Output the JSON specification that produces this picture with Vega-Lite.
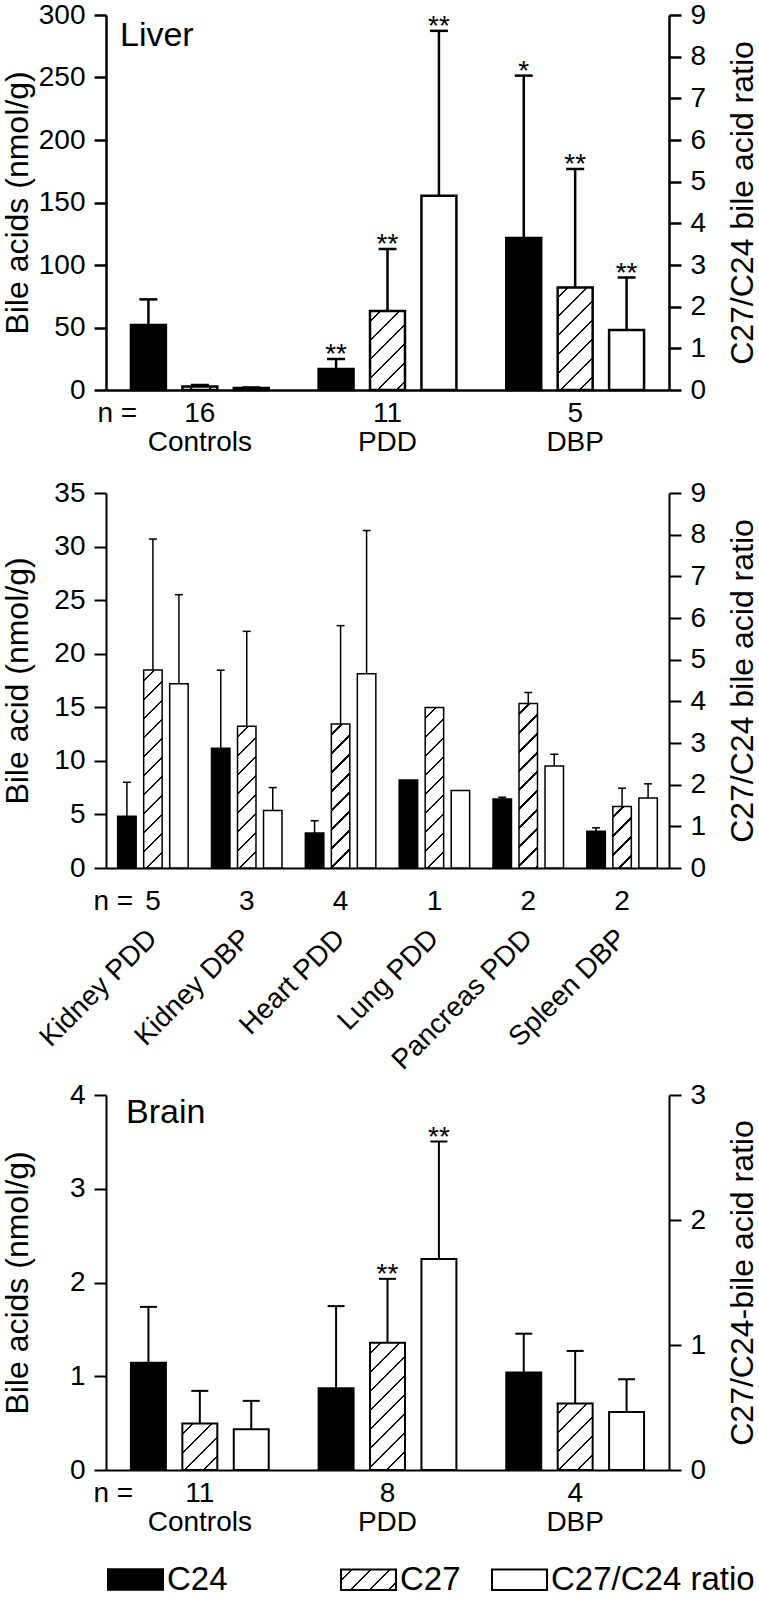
{
  "$schema": "https://vega.github.io/schema/vega-lite/v6.json",
  "padding": {"left": 1, "top": 1, "right": 0, "bottom": 0},
  "params": [
    {"name": "hs", "value": [
      {"offset": 0, "color": "white"},
      {"offset": 0.03958, "color": "white"}, {"offset": 0.03958, "color": "black"}, {"offset": 0.04875, "color": "black"}, {"offset": 0.04875, "color": "white"},
      {"offset": 0.11875, "color": "white"}, {"offset": 0.11875, "color": "black"}, {"offset": 0.12792, "color": "black"}, {"offset": 0.12792, "color": "white"},
      {"offset": 0.19792, "color": "white"}, {"offset": 0.19792, "color": "black"}, {"offset": 0.20708, "color": "black"}, {"offset": 0.20708, "color": "white"},
      {"offset": 0.27708, "color": "white"}, {"offset": 0.27708, "color": "black"}, {"offset": 0.28625, "color": "black"}, {"offset": 0.28625, "color": "white"},
      {"offset": 0.35625, "color": "white"}, {"offset": 0.35625, "color": "black"}, {"offset": 0.36542, "color": "black"}, {"offset": 0.36542, "color": "white"},
      {"offset": 0.43542, "color": "white"}, {"offset": 0.43542, "color": "black"}, {"offset": 0.44458, "color": "black"}, {"offset": 0.44458, "color": "white"},
      {"offset": 0.51458, "color": "white"}, {"offset": 0.51458, "color": "black"}, {"offset": 0.52375, "color": "black"}, {"offset": 0.52375, "color": "white"},
      {"offset": 0.59375, "color": "white"}, {"offset": 0.59375, "color": "black"}, {"offset": 0.60292, "color": "black"}, {"offset": 0.60292, "color": "white"},
      {"offset": 0.67292, "color": "white"}, {"offset": 0.67292, "color": "black"}, {"offset": 0.68208, "color": "black"}, {"offset": 0.68208, "color": "white"},
      {"offset": 0.75208, "color": "white"}, {"offset": 0.75208, "color": "black"}, {"offset": 0.76125, "color": "black"}, {"offset": 0.76125, "color": "white"},
      {"offset": 0.83125, "color": "white"}, {"offset": 0.83125, "color": "black"}, {"offset": 0.84042, "color": "black"}, {"offset": 0.84042, "color": "white"},
      {"offset": 0.91042, "color": "white"}, {"offset": 0.91042, "color": "black"}, {"offset": 0.91958, "color": "black"}, {"offset": 0.91958, "color": "white"},
      {"offset": 0.98958, "color": "white"}, {"offset": 0.98958, "color": "black"}, {"offset": 0.99875, "color": "black"}, {"offset": 0.99875, "color": "white"},
      {"offset": 1, "color": "white"}
    ]}
  ],
  "datasets": {
    "liver": [
      {"group": "Controls", "n": 16, "series": "C24", "value": 52, "err": 72.5, "sig": ""},
      {"group": "Controls", "n": 16, "series": "C27", "value": 2.9, "err": 4, "sig": ""},
      {"group": "Controls", "n": 16, "series": "C27/C24 ratio", "value": 0.05, "err": 0.06, "sig": ""},
      {"group": "PDD", "n": 11, "series": "C24", "value": 16.8, "err": 24.8, "sig": "**"},
      {"group": "PDD", "n": 11, "series": "C27", "value": 63.3, "err": 112.8, "sig": "**"},
      {"group": "PDD", "n": 11, "series": "C27/C24 ratio", "value": 4.66, "err": 8.62, "sig": "**"},
      {"group": "DBP", "n": 5, "series": "C24", "value": 121.6, "err": 251.5, "sig": "*"},
      {"group": "DBP", "n": 5, "series": "C27", "value": 82.1, "err": 176.8, "sig": "**"},
      {"group": "DBP", "n": 5, "series": "C27/C24 ratio", "value": 1.44, "err": 2.7, "sig": "**"}
    ],
    "organs": [
      {"group": "Kidney PDD", "n": 5, "series": "C24", "value": 4.84, "err": 8.0},
      {"group": "Kidney PDD", "n": 5, "series": "C27", "value": 18.49, "err": 30.7},
      {"group": "Kidney PDD", "n": 5, "series": "C27/C24 ratio", "value": 4.42, "err": 6.56},
      {"group": "Kidney DBP", "n": 3, "series": "C24", "value": 11.17, "err": 18.46},
      {"group": "Kidney DBP", "n": 3, "series": "C27", "value": 13.22, "err": 22.09},
      {"group": "Kidney DBP", "n": 3, "series": "C27/C24 ratio", "value": 1.38, "err": 1.93},
      {"group": "Heart PDD", "n": 4, "series": "C24", "value": 3.26, "err": 4.41},
      {"group": "Heart PDD", "n": 4, "series": "C27", "value": 13.43, "err": 22.62},
      {"group": "Heart PDD", "n": 4, "series": "C27/C24 ratio", "value": 4.66, "err": 8.1},
      {"group": "Lung PDD", "n": 1, "series": "C24", "value": 8.22, "err": null},
      {"group": "Lung PDD", "n": 1, "series": "C27", "value": 14.99, "err": null},
      {"group": "Lung PDD", "n": 1, "series": "C27/C24 ratio", "value": 1.86, "err": null},
      {"group": "Pancreas PDD", "n": 2, "series": "C24", "value": 6.45, "err": 6.6},
      {"group": "Pancreas PDD", "n": 2, "series": "C27", "value": 15.36, "err": 16.38},
      {"group": "Pancreas PDD", "n": 2, "series": "C27/C24 ratio", "value": 2.45, "err": 2.73},
      {"group": "Spleen DBP", "n": 2, "series": "C24", "value": 3.44, "err": 3.75},
      {"group": "Spleen DBP", "n": 2, "series": "C27", "value": 5.74, "err": 7.45},
      {"group": "Spleen DBP", "n": 2, "series": "C27/C24 ratio", "value": 1.68, "err": 2.02}
    ],
    "brain": [
      {"group": "Controls", "n": 11, "series": "C24", "value": 1.145, "err": 1.74, "sig": ""},
      {"group": "Controls", "n": 11, "series": "C27", "value": 0.496, "err": 0.844, "sig": ""},
      {"group": "Controls", "n": 11, "series": "C27/C24 ratio", "value": 0.327, "err": 0.553, "sig": ""},
      {"group": "PDD", "n": 8, "series": "C24", "value": 0.872, "err": 1.748, "sig": ""},
      {"group": "PDD", "n": 8, "series": "C27", "value": 1.358, "err": 2.039, "sig": "**"},
      {"group": "PDD", "n": 8, "series": "C27/C24 ratio", "value": 1.689, "err": 2.628, "sig": "**"},
      {"group": "DBP", "n": 4, "series": "C24", "value": 1.039, "err": 1.454, "sig": ""},
      {"group": "DBP", "n": 4, "series": "C27", "value": 0.709, "err": 1.27, "sig": ""},
      {"group": "DBP", "n": 4, "series": "C27/C24 ratio", "value": 0.465, "err": 0.726, "sig": ""}
    ]
  },
  "config": {
    "font": "Liberation Sans",
    "view": {"stroke": null},
    "axis": {"grid": false, "domainColor": "black", "tickColor": "black", "labelColor": "black", "titleColor": "black", "labelFontSize": 28, "titleFontSize": 32, "titleFontWeight": "normal", "tickSize": 12, "tickWidth": 2, "domainWidth": 2, "labelPadding": 9, "labelFont": "Liberation Sans", "titleFont": "Liberation Sans", "labelOverlap": false, "labelFlush": false, "labelBound": false}
  },
  "spacing": 6,
  "resolve": {"scale": {"xOffset": "independent"}},
  "vconcat": [
    {
      "spacing": 23,
      "resolve": {"scale": {"xOffset": "independent"}},
      "vconcat": [
        {
          "width": 563, "height": 375,
          "data": {"name": "liver"},
          "transform": [{"calculate": "datum.n + '|' + datum.group", "as": "xlab"}],
          "title": {"text": "Liver", "anchor": "start", "frame": "group", "orient": "top", "offset": 0, "dx": 14, "dy": 52, "baseline": "top", "fontSize": 34, "fontWeight": "normal", "color": "black"},
          "layer": [
            {"layer": [
              {"transform": [{"filter": "datum.series == 'C24'"}],
               "mark": {"type": "bar", "fill": "black", "stroke": "black", "strokeWidth": 2.5},
               "encoding": {
                 "x": {"field": "xlab", "type": "nominal", "sort": null, "scale": {"paddingInner": 0, "paddingOuter": 0},
                   "axis": {"labelExpr": "split(datum.value, '|')", "labelAngle": 0, "labelAlign": "center", "labelBaseline": "top", "labelPadding": 9, "labelLineHeight": 29, "ticks": false, "domainWidth": 2.5, "title": "n =", "titleAngle": 0, "titleAlign": "left", "titleBaseline": "top", "titleX": -9, "titleY": 9, "titleFontSize": 28}},
                 "xOffset": {"field": "series", "type": "nominal", "scale": {"domain": ["C24", "C27", "C27/C24 ratio"], "paddingInner": 0.32, "paddingOuter": 0.485}},
                 "y": {"field": "value", "type": "quantitative", "scale": {"domain": [0, 300], "nice": false},
                   "axis": {"values": [0, 50, 100, 150, 200, 250, 300], "format": "d", "title": "Bile acids (nmol/g)", "minExtent": 64, "maxExtent": 64, "titlePadding": 8, "domainWidth": 2.5, "tickWidth": 2.5}}
               }},
              {"transform": [{"filter": "datum.series == 'C27'"}],
               "mark": {"type": "bar", "fill": {"expr": "{gradient: 'linear', x1: 0, y1: 0, x2: 240 * 34.96 / (1222.2 + pow(datum.value * 1.25, 2)), y2: 240 * datum.value * 1.25 / (1222.2 + pow(datum.value * 1.25, 2)), stops: hs}"}, "stroke": "black", "strokeWidth": 2.5},
               "encoding": {
                 "x": {"field": "xlab", "type": "nominal", "sort": null},
                 "xOffset": {"field": "series", "type": "nominal"},
                 "y": {"field": "value", "type": "quantitative"}
               }},
              {"transform": [{"filter": "datum.series != 'C27/C24 ratio' && isValid(datum.err)"}],
               "mark": {"type": "rule", "color": "black", "strokeWidth": 2.5},
               "encoding": {
                 "x": {"field": "xlab", "type": "nominal", "sort": null},
                 "xOffset": {"field": "series", "type": "nominal"},
                 "y": {"field": "value", "type": "quantitative"},
                 "y2": {"field": "err"}
               }},
              {"transform": [{"filter": "datum.series != 'C27/C24 ratio' && isValid(datum.err)"}],
               "mark": {"type": "tick", "orient": "horizontal", "size": 18, "thickness": 2.5, "color": "black", "opacity": 1},
               "encoding": {
                 "x": {"field": "xlab", "type": "nominal", "sort": null},
                 "xOffset": {"field": "series", "type": "nominal"},
                 "y": {"field": "err", "type": "quantitative"}
               }},
              {"transform": [{"filter": "datum.series != 'C27/C24 ratio' && isValid(datum.err)"}],
               "mark": {"type": "text", "fontSize": 28, "baseline": "alphabetic", "align": "center", "dy": 4, "color": "black"},
               "encoding": {
                 "x": {"field": "xlab", "type": "nominal", "sort": null},
                 "xOffset": {"field": "series", "type": "nominal"},
                 "y": {"field": "err", "type": "quantitative"},
                 "text": {"field": "sig"}
               }}
            ]},
            {"layer": [
              {"transform": [{"filter": "datum.series == 'C27/C24 ratio'"}],
               "mark": {"type": "bar", "fill": "white", "stroke": "black", "strokeWidth": 2.5},
               "encoding": {
                 "x": {"field": "xlab", "type": "nominal", "sort": null},
                 "xOffset": {"field": "series", "type": "nominal"},
                 "y": {"field": "value", "type": "quantitative", "scale": {"domain": [0, 9], "nice": false},
                   "axis": {"orient": "right", "values": [0, 1, 2, 3, 4, 5, 6, 7, 8, 9], "format": "d", "title": "C27/C24 bile acid ratio", "titleAngle": -90, "titleBaseline": "top", "minExtent": 40, "maxExtent": 40, "titlePadding": 18, "domainWidth": 2.5, "tickWidth": 2.5}}
               }},
              {"transform": [{"filter": "datum.series == 'C27/C24 ratio' && isValid(datum.err)"}],
               "mark": {"type": "rule", "color": "black", "strokeWidth": 2.5},
               "encoding": {
                 "x": {"field": "xlab", "type": "nominal", "sort": null},
                 "xOffset": {"field": "series", "type": "nominal"},
                 "y": {"field": "value", "type": "quantitative"},
                 "y2": {"field": "err"}
               }},
              {"transform": [{"filter": "datum.series == 'C27/C24 ratio' && isValid(datum.err)"}],
               "mark": {"type": "tick", "orient": "horizontal", "size": 18, "thickness": 2.5, "color": "black", "opacity": 1},
               "encoding": {
                 "x": {"field": "xlab", "type": "nominal", "sort": null},
                 "xOffset": {"field": "series", "type": "nominal"},
                 "y": {"field": "err", "type": "quantitative"}
               }},
              {"transform": [{"filter": "datum.series == 'C27/C24 ratio' && isValid(datum.err)"}],
               "mark": {"type": "text", "fontSize": 28, "baseline": "alphabetic", "align": "center", "dy": 4, "color": "black"},
               "encoding": {
                 "x": {"field": "xlab", "type": "nominal", "sort": null},
                 "xOffset": {"field": "series", "type": "nominal"},
                 "y": {"field": "err", "type": "quantitative"},
                 "text": {"field": "sig"}
               }}
            ]}
          ],
          "resolve": {"scale": {"y": "independent"}}
        },
        {
          "width": 563, "height": 375,
          "data": {"name": "organs"},
          "transform": [{"calculate": "datum.n + '|' + datum.group", "as": "xlab"}],
          "layer": [
            {"layer": [
              {"layer": [
                {"transform": [{"filter": "datum.series == 'C24'"}],
                 "mark": {"type": "bar", "fill": "black", "stroke": "black", "strokeWidth": 1.5},
                 "encoding": {
                   "x": {"field": "xlab", "type": "nominal", "sort": null, "scale": {"paddingInner": 0, "paddingOuter": 0},
                     "axis": {"labelExpr": "split(datum.value, '|')[0]", "labelAngle": 0, "labelAlign": "center", "labelBaseline": "top", "labelPadding": 19, "ticks": false, "domainWidth": 2, "title": "n =", "titleAngle": 0, "titleAlign": "left", "titleBaseline": "top", "titleX": -13, "titleY": 19, "titleFontSize": 28}},
                   "xOffset": {"field": "series", "type": "nominal", "scale": {"domain": ["C24", "C27", "C27/C24 ratio"], "paddingInner": 0.29, "paddingOuter": 0.449}},
                   "y": {"field": "value", "type": "quantitative", "scale": {"domain": [0, 35], "nice": false},
                     "axis": {"values": [0, 5, 10, 15, 20, 25, 30, 35], "format": "d", "title": "Bile acid (nmol/g)", "minExtent": 64, "maxExtent": 64, "titlePadding": 8}}
                 }},
                {"transform": [{"filter": "datum.series == 'C27'"}],
                 "mark": {"type": "bar", "fill": {"expr": "{gradient: 'linear', x1: 0, y1: 0, x2: 240 * 18.47 / (341.1 + pow(datum.value * 10.714, 2)), y2: 240 * datum.value * 10.714 / (341.1 + pow(datum.value * 10.714, 2)), stops: hs}"}, "stroke": "black", "strokeWidth": 1.5},
                 "encoding": {
                   "x": {"field": "xlab", "type": "nominal", "sort": null},
                   "xOffset": {"field": "series", "type": "nominal"},
                   "y": {"field": "value", "type": "quantitative"}
                 }},
                {"transform": [{"filter": "datum.series != 'C27/C24 ratio' && isValid(datum.err)"}],
                 "mark": {"type": "rule", "color": "black", "strokeWidth": 1.5},
                 "encoding": {
                   "x": {"field": "xlab", "type": "nominal", "sort": null},
                   "xOffset": {"field": "series", "type": "nominal"},
                   "y": {"field": "value", "type": "quantitative"},
                   "y2": {"field": "err"}
                 }},
                {"transform": [{"filter": "datum.series != 'C27/C24 ratio' && isValid(datum.err)"}],
                 "mark": {"type": "tick", "orient": "horizontal", "size": 8, "thickness": 1.5, "color": "black", "opacity": 1},
                 "encoding": {
                   "x": {"field": "xlab", "type": "nominal", "sort": null},
                   "xOffset": {"field": "series", "type": "nominal"},
                   "y": {"field": "err", "type": "quantitative"}
                 }}
              ]},
              {"layer": [
                {"transform": [{"filter": "datum.series == 'C27/C24 ratio'"}],
                 "mark": {"type": "bar", "fill": "white", "stroke": "black", "strokeWidth": 1.5},
                 "encoding": {
                   "x": {"field": "xlab", "type": "nominal", "sort": null},
                   "xOffset": {"field": "series", "type": "nominal"},
                   "y": {"field": "value", "type": "quantitative", "scale": {"domain": [0, 9], "nice": false},
                     "axis": {"orient": "right", "values": [0, 1, 2, 3, 4, 5, 6, 7, 8, 9], "format": "d", "title": "C27/C24 bile acid ratio", "titleAngle": -90, "titleBaseline": "top", "minExtent": 40, "maxExtent": 40, "titlePadding": 18}}
                 }},
                {"transform": [{"filter": "datum.series == 'C27/C24 ratio' && isValid(datum.err)"}],
                 "mark": {"type": "rule", "color": "black", "strokeWidth": 1.5},
                 "encoding": {
                   "x": {"field": "xlab", "type": "nominal", "sort": null},
                   "xOffset": {"field": "series", "type": "nominal"},
                   "y": {"field": "value", "type": "quantitative"},
                   "y2": {"field": "err"}
                 }},
                {"transform": [{"filter": "datum.series == 'C27/C24 ratio' && isValid(datum.err)"}],
                 "mark": {"type": "tick", "orient": "horizontal", "size": 8, "thickness": 1.5, "color": "black", "opacity": 1},
                 "encoding": {
                   "x": {"field": "xlab", "type": "nominal", "sort": null},
                   "xOffset": {"field": "series", "type": "nominal"},
                   "y": {"field": "err", "type": "quantitative"}
                 }}
              ]}
            ],
            "resolve": {"scale": {"y": "independent"}}},
            {"mark": {"type": "rule", "opacity": 0},
             "encoding": {
               "x": {"field": "xlab", "type": "nominal", "sort": null, "scale": {"paddingInner": 0, "paddingOuter": 0},
                 "axis": {"orient": "bottom", "labelExpr": "split(datum.value, '|')[1]", "labelAngle": -45, "labelAlign": "right", "labelBaseline": "middle", "labelPadding": 66, "labelFontSize": 28, "labelLimit": 400, "domain": false, "ticks": false, "title": null}}
             }}
          ],
          "resolve": {"scale": {"x": "independent", "xOffset": "independent"}, "axis": {"x": "independent"}}
        }
      ]
    },
    {
      "width": 563, "height": 375,
      "data": {"name": "brain"},
      "transform": [{"calculate": "datum.n + '|' + datum.group", "as": "xlab"}],
      "title": {"text": "Brain", "anchor": "start", "frame": "group", "orient": "top", "offset": 0, "dx": 20, "dy": 49, "baseline": "top", "fontSize": 34, "fontWeight": "normal", "color": "black"},
      "layer": [
        {"layer": [
          {"transform": [{"filter": "datum.series == 'C24'"}],
           "mark": {"type": "bar", "stroke": "black", "strokeWidth": 2},
           "encoding": {
             "x": {"field": "xlab", "type": "nominal", "sort": null, "scale": {"paddingInner": 0, "paddingOuter": 0},
               "axis": {"labelExpr": "split(datum.value, '|')", "labelAngle": 0, "labelAlign": "center", "labelBaseline": "top", "labelPadding": 9, "labelLineHeight": 29, "ticks": false, "domainWidth": 2, "title": "n =", "titleAngle": 0, "titleAlign": "left", "titleBaseline": "top", "titleX": -13, "titleY": 9, "titleFontSize": 28}},
             "xOffset": {"field": "series", "type": "nominal", "scale": {"domain": ["C24", "C27", "C27/C24 ratio"], "paddingInner": 0.32, "paddingOuter": 0.485}},
             "y": {"field": "value", "type": "quantitative", "scale": {"domain": [0, 4], "nice": false},
               "axis": {"values": [0, 1, 2, 3, 4], "format": "d", "title": "Bile acids (nmol/g)", "minExtent": 64, "maxExtent": 64, "titlePadding": 8}},
             "fill": {"field": "series", "type": "nominal",
               "scale": {"domain": ["C24"], "range": ["black"]},
               "legend": {"orient": "none", "legendX": 1, "legendY": 456, "direction": "horizontal", "title": null, "padding": 0,
                 "symbolType": "M-1,-0.37L1,-0.37L1,0.37L-1,0.37Z", "symbolSize": 3025, "symbolStrokeColor": "black", "symbolStrokeWidth": 2,
                 "labelFontSize": 33, "labelColor": "black", "labelOffset": 3, "labelLimit": 600,
                 "encoding": {"symbols": {"stroke": {"value": "black"}, "strokeWidth": {"value": 2}, "opacity": {"value": 1}}}}}
           }},
          {"transform": [{"filter": "datum.series == 'C27'"}],
           "mark": {"type": "bar", "fill": {"expr": "{gradient: 'linear', x1: 0, y1: 0, x2: 240 * 34.96 / (1222.2 + pow(datum.value * 93.75, 2)), y2: 240 * datum.value * 93.75 / (1222.2 + pow(datum.value * 93.75, 2)), stops: hs}"}, "stroke": "black", "strokeWidth": 2},
           "encoding": {
             "x": {"field": "xlab", "type": "nominal", "sort": null},
             "xOffset": {"field": "series", "type": "nominal"},
             "y": {"field": "value", "type": "quantitative"}
           }},
          {"transform": [{"filter": "datum.series != 'C27/C24 ratio' && isValid(datum.err)"}],
           "mark": {"type": "rule", "color": "black", "strokeWidth": 2},
           "encoding": {
             "x": {"field": "xlab", "type": "nominal", "sort": null},
             "xOffset": {"field": "series", "type": "nominal"},
             "y": {"field": "value", "type": "quantitative"},
             "y2": {"field": "err"}
           }},
          {"transform": [{"filter": "datum.series != 'C27/C24 ratio' && isValid(datum.err)"}],
           "mark": {"type": "tick", "orient": "horizontal", "size": 17, "thickness": 2, "color": "black", "opacity": 1},
           "encoding": {
             "x": {"field": "xlab", "type": "nominal", "sort": null},
             "xOffset": {"field": "series", "type": "nominal"},
             "y": {"field": "err", "type": "quantitative"}
           }},
          {"transform": [{"filter": "datum.series != 'C27/C24 ratio' && isValid(datum.err)"}],
           "mark": {"type": "text", "fontSize": 28, "baseline": "alphabetic", "align": "center", "dy": 4, "color": "black"},
           "encoding": {
             "x": {"field": "xlab", "type": "nominal", "sort": null},
             "xOffset": {"field": "series", "type": "nominal"},
             "y": {"field": "err", "type": "quantitative"},
             "text": {"field": "sig"}
           }}
        ]},
        {"layer": [
          {"transform": [{"filter": "datum.series == 'C27/C24 ratio'"}],
           "mark": {"type": "bar", "stroke": "black", "strokeWidth": 2},
           "encoding": {
             "x": {"field": "xlab", "type": "nominal", "sort": null},
             "xOffset": {"field": "series", "type": "nominal"},
             "y": {"field": "value", "type": "quantitative", "scale": {"domain": [0, 3], "nice": false},
               "axis": {"orient": "right", "values": [0, 1, 2, 3], "format": "d", "title": "C27/C24-bile acid ratio", "titleAngle": -90, "titleBaseline": "top", "minExtent": 40, "maxExtent": 40, "titlePadding": 18}},
             "fill": {"field": "series", "type": "nominal",
               "scale": {"domain": ["C27", "C27/C24 ratio"], "range": [{"expr": "{gradient: 'linear', x1: 0, y1: 0, x2: 3.838, y2: 1.42, stops: hs}"}, "white"]},
               "legend": {"orient": "none", "legendX": 234, "legendY": 456, "direction": "horizontal", "title": null, "padding": 0,
                 "symbolType": "M-1,-0.37L1,-0.37L1,0.37L-1,0.37Z", "symbolSize": 3025, "symbolStrokeColor": "black", "symbolStrokeWidth": 2,
                 "labelFontSize": 33, "labelColor": "black", "labelOffset": 3, "labelLimit": 600, "columnPadding": 27,
                 "encoding": {"symbols": {"stroke": {"value": "black"}, "strokeWidth": {"value": 2}, "opacity": {"value": 1}}}}}
           }},
          {"transform": [{"filter": "datum.series == 'C27/C24 ratio' && isValid(datum.err)"}],
           "mark": {"type": "rule", "color": "black", "strokeWidth": 2},
           "encoding": {
             "x": {"field": "xlab", "type": "nominal", "sort": null},
             "xOffset": {"field": "series", "type": "nominal"},
             "y": {"field": "value", "type": "quantitative"},
             "y2": {"field": "err"}
           }},
          {"transform": [{"filter": "datum.series == 'C27/C24 ratio' && isValid(datum.err)"}],
           "mark": {"type": "tick", "orient": "horizontal", "size": 17, "thickness": 2, "color": "black", "opacity": 1},
           "encoding": {
             "x": {"field": "xlab", "type": "nominal", "sort": null},
             "xOffset": {"field": "series", "type": "nominal"},
             "y": {"field": "err", "type": "quantitative"}
           }},
          {"transform": [{"filter": "datum.series == 'C27/C24 ratio' && isValid(datum.err)"}],
           "mark": {"type": "text", "fontSize": 28, "baseline": "alphabetic", "align": "center", "dy": 4, "color": "black"},
           "encoding": {
             "x": {"field": "xlab", "type": "nominal", "sort": null},
             "xOffset": {"field": "series", "type": "nominal"},
             "y": {"field": "err", "type": "quantitative"},
             "text": {"field": "sig"}
           }}
        ]}
      ],
      "resolve": {"scale": {"y": "independent", "fill": "independent"}}
    }
  ]
}
